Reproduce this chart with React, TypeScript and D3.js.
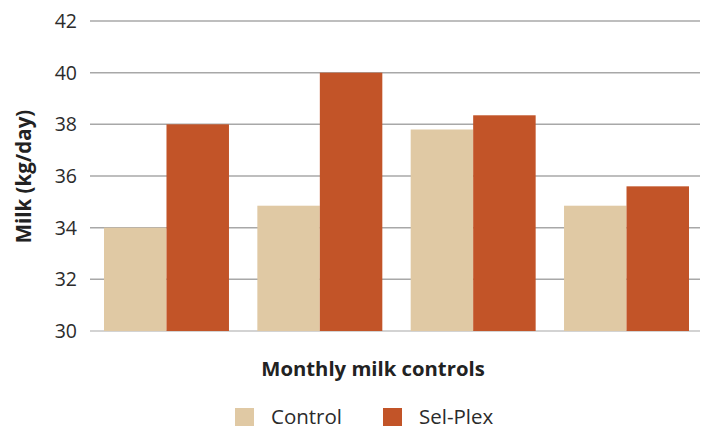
import React from "react";
import * as d3 from "d3";

const months = ["1", "2", "3", "4"];
const controlValues = [34.0, 34.85, 37.8, 34.85];
const selPlexValues = [38.0, 40.0, 38.35, 35.6];
const seriesNames = ["Control", "Sel-Plex"];
const yTicks = [30, 32, 34, 36, 38, 40, 42];

const colors = ["#e0c9a4", "#c25428"];
const font = "'Open Sans', 'Noto Sans', sans-serif";

export default function App() {
  const width = 708;
  const height = 430;
  const left = 90;
  const right = 700;
  const top = 21;
  const bottom = 331;

  // bars run a touch wider than the grid on the right
  const x = d3.scaleBand<string>().domain(months).range([left, 703]).paddingInner(0.185).paddingOuter(0.0913);
  const xSeries = d3.scaleBand<string>().domain(seriesNames).range([0, x.bandwidth()]);
  const y = d3.scaleLinear().domain([30, 42]).range([bottom, top]);

  const series = [controlValues, selPlexValues];

  return (
    <svg width={width} height={height} style={{ position: "absolute", left: 0, top: 0 }}>
      <rect width={width} height={height} fill="#fff" />
      {yTicks.map((t) => (
        <g key={t}>
          <line x1={left} x2={right} y1={y(t)} y2={y(t)} stroke={t === 30 ? "#c4c4c4" : "#a8a8a8"} strokeWidth={1.5} />
          <text x={77} y={y(t)} dy="0.36em" textAnchor="end" fontFamily={font} fontSize={19.5} fill="#2b2b2b">
            {t}
          </text>
        </g>
      ))}
      {months.map((m, i) =>
        seriesNames.map((s, j) => {
          const v = series[j][i];
          return (
            <rect
              key={m + s}
              x={(x(m) ?? 0) + (xSeries(s) ?? 0)}
              y={y(v)}
              width={xSeries.bandwidth()}
              height={y(30) - y(v)}
              fill={colors[j]}
            />
          );
        })
      )}
      <text
        transform={`translate(31, ${(108 + 245) / 2}) rotate(-90)`}
        textAnchor="middle"
        fontFamily={font}
        fontWeight="bold"
        fontSize={20.5}
        fill="#222"
      >
        Milk (kg/day)
      </text>
      <text x={373} y={376} textAnchor="middle" fontFamily={font} fontWeight="bold" fontSize={20.3} fill="#222">
        Monthly milk controls
      </text>
      {seriesNames.map((s, j) => {
        const lx = 235 + j * 148;
        return (
          <g key={s}>
            <rect x={lx} y={408} width={19} height={18} fill={colors[j]} />
            <text x={lx + 36} y={424} fontFamily={font} fontSize={20.5} fill="#2b2b2b">
              {s}
            </text>
          </g>
        );
      })}
    </svg>
  );
}
